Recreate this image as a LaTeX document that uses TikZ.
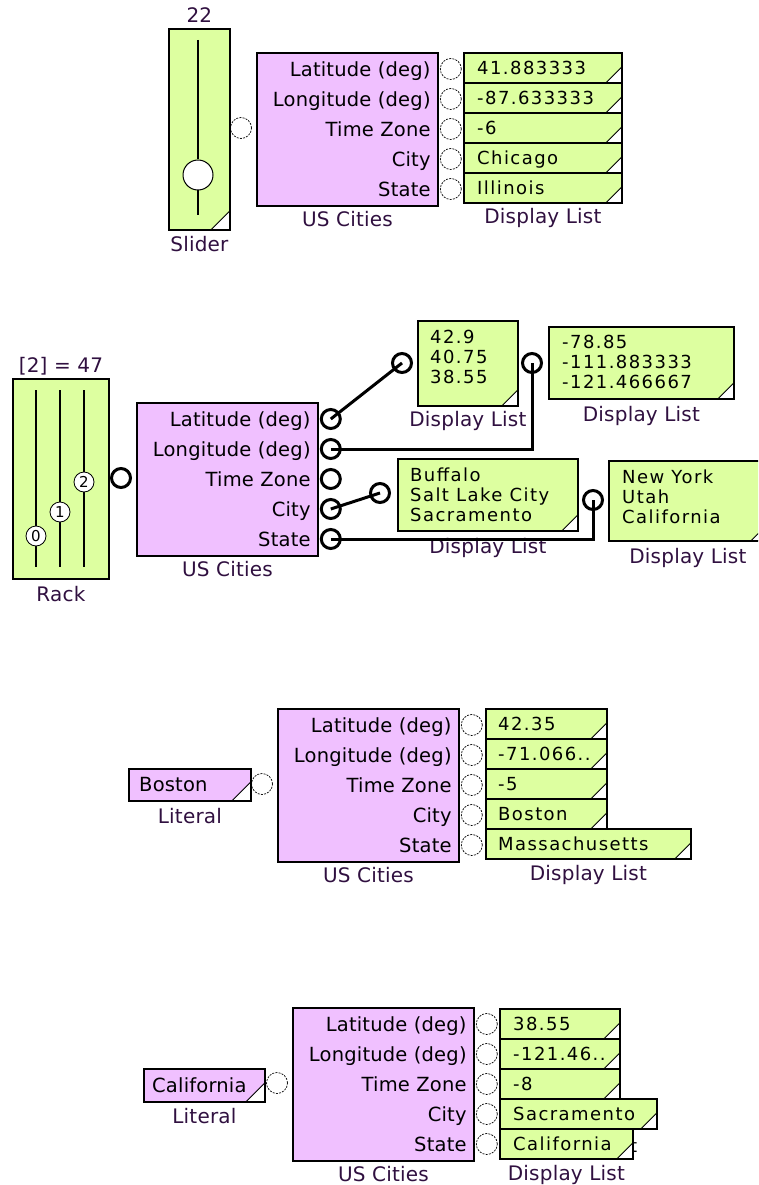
\documentclass[tikz,border=0pt]{standalone}
\usepackage{fontspec}
\setmainfont{DejaVu Sans}
\newfontfamily\lblfont[LetterSpace=1]{DejaVu Sans}
\newfontfamily\valfont[LetterSpace=8]{DejaVu Sans}
\usetikzlibrary{positioning}
\definecolor{dlgreen}{RGB}{221,255,160}
\definecolor{ucpink}{RGB}{240,192,255}
\definecolor{captxt}{RGB}{48,16,64}

\begin{document}
\begin{tikzpicture}[
    x=1pt, y=-1pt,
    greenbox/.style={draw, fill=dlgreen, line width=1.8pt, anchor=north west, inner sep=0pt},
    pinkbox/.style={draw, fill=ucpink, line width=1.8pt, anchor=north west, inner sep=0pt},
    corner/.style={path picture={\draw[fill=white, line width=0.9pt]
        ([xshift=-#1]path picture bounding box.south east) --
        ([yshift=#1]path picture bounding box.south east) --
        (path picture bounding box.south east) -- cycle;}},
    corner/.default=16pt,
    caption/.style={font=\lblfont\fontsize{20}{22}\selectfont, text=captxt, inner sep=0pt, anchor=mid, yshift=-4pt},
    portlabel/.style={font=\lblfont\fontsize{19.5}{22}\selectfont, inner sep=0pt, anchor=mid east, yshift=-5pt},
    value/.style={font=\valfont\fontsize{18}{20}\selectfont, inner sep=0pt, anchor=mid west},
    rowtext/.style={value, yshift=-4pt},
    openport/.style={circle, draw, fill=white, minimum size=21pt, inner sep=0pt, line width=0.7pt, dash pattern=on 2pt off 1.2pt},
    wireport/.style={circle, draw, fill=white, minimum size=19pt, inner sep=0pt, line width=3pt},
    knob/.style={circle, draw, fill=white, inner sep=0pt, line width=0.8pt},
    wire/.style={line width=3pt}
]
\clip (0,0) rectangle (758,1185);
\fill[white] (0,0) rectangle (758,1185);

% US Cities blocks
\foreach \s/\bx/\by/\pst in {1/256/52/openport, 2/136/402/wireport, 3/277/708/openport, 4/292/1007/openport}{
  \node[pinkbox, minimum width=181pt, minimum height=153pt] (uc\s) at (\bx,\by) {};
  \node[caption] (uccap\s) at ([yshift=-13pt]uc\s.south) {US Cities};
  \node[\pst] (in\s) at ([shift={(-15pt,-76pt)}]uc\s.north west) {};
  \foreach \lab [count=\k from 0] in {Latitude (deg), Longitude (deg), Time Zone, City, State}{
    \node[portlabel] (lab\s\k) at ([shift={(-8pt,-17pt-30pt*\k)}]uc\s.north east) {\lab};
    \node[\pst] (out\s\k) at ([shift={(12pt,-17pt-30pt*\k)}]uc\s.north east) {};
  }
}

% slider
\node[greenbox, corner=19pt, minimum width=61pt, minimum height=201pt] (slider) at (168,28) {};
\node[caption] (slidercap) at ([yshift=-14pt]slider.south) {Slider};
\node[caption] (sliderval) at ([yshift=12pt]slider.north) {22};
\node[knob, minimum size=30pt, line width=1pt] (sknob) at (198,175) {};
\draw[line width=1.5pt] (198,40) -- (sknob.north) (sknob.south) -- (198,215);

% display list 1
\foreach \val [count=\k from 0] in {41.883333, -87.633333, -6, Chicago, Illinois}{
  \node[greenbox, corner, minimum width=158pt, minimum height=30pt] (dl1\k) at (463,52+30*\k) {};
  \node[rowtext] at ([xshift=14pt]dl1\k.west) {\val};
}
\node[caption] (dlcap1) at ([yshift=-13pt]dl14.south) {Display List};

% rack
\node[greenbox, minimum width=96pt, minimum height=200pt] (rack) at (12,378) {};
\node[caption] (rackcap) at ([yshift=-15pt]rack.south) {Rack};
\node[caption] (rackval) at ([yshift=12pt]rack.north) {[2] = 47};
\foreach \kx/\ky [count=\k from 0] in {36/536, 60/512, 84/482}{
  \draw[line width=1.5pt] (\kx,390) -- (\kx,567);
  \node[knob, minimum size=20pt, font=\fontsize{15}{15}\selectfont] (rknob\k) at (\kx,\ky) {\the\numexpr\k\relax};
}

% display lists of the rack
\node[greenbox, corner, minimum width=100pt, minimum height=85pt] (dllat) at (417,320) {};
\node[value, anchor=north west, align=left] at ([shift={(13pt,-10pt)}]dllat.north west) {42.9\\40.75\\38.55};
\node[caption] (dllatcap) at ([yshift=-13pt]dllat.south) {Display List};
\node[wireport] (inlat) at (402,363) {};

\node[greenbox, corner, minimum width=185pt, minimum height=72pt] (dllon) at (548,326) {};
\node[value, anchor=north west, align=left] at ([shift={(14pt,-9pt)}]dllon.north west) {-78.85\\-111.883333\\-121.466667};
\node[caption] (dlloncap) at ([yshift=-15pt]dllon.south) {Display List};
\node[wireport] (inlon) at (532,363) {};

\node[greenbox, corner, minimum width=180pt, minimum height=72pt] (dlcity) at (397,458) {};
\node[value, anchor=north west, align=left] at ([shift={(13pt,-10pt)}]dlcity.north west) {Buffalo\\Salt Lake City\\Sacramento};
\node[caption] (dlcitycap) at ([yshift=-15pt]dlcity.south) {Display List};
\node[wireport] (incity) at (380,493) {};

\node[greenbox, corner, minimum width=158pt, minimum height=80pt] (dlstate) at (608,460) {};
\node[value, anchor=north west, align=left] at ([shift={(14pt,-10pt)}]dlstate.north west) {New York\\Utah\\California};
\node[caption] (dlstatecap) at ([yshift=-15pt]dlstate.south) {Display List};
\node[wireport] (instate) at (593,500) {};

\draw[wire] (out20.center) -- (inlat.center);
\draw[wire] (out21.center) -| (inlon.center);
\draw[wire] (out23.center) -- (incity.center);
\draw[wire] (out24.center) -| (instate.center);

% literal Boston
\node[pinkbox, corner=19pt, minimum width=122pt, minimum height=32pt] (lit3) at (128,768) {};
\node[rowtext, font=\lblfont\fontsize{19.5}{22}\selectfont] at ([xshift=11pt]lit3.west) {Boston};
\node[caption] (litcap3) at ([yshift=-15pt]lit3.south) {Literal};

\foreach \val/\w [count=\k from 0] in {42.35/121, -71.066../121, -5/121, Boston/121, Massachusetts/205}{
  \node[greenbox, corner, minimum width=\w pt, minimum height=30pt] (dl3\k) at (485,708+30*\k) {};
  \node[rowtext] at ([xshift=13pt]dl3\k.west) {\val};
}
\node[caption] (dlcap3) at ([yshift=-14pt]dl34.south) {Display List};

% literal California
\node[pinkbox, corner=19pt, minimum width=121pt, minimum height=33pt] (lit4) at (143,1068) {};
\node[rowtext, font=\lblfont\fontsize{19.5}{22}\selectfont] at ([xshift=9pt]lit4.west) {California};
\node[caption] (litcap4) at ([yshift=-14pt]lit4.south) {Literal};

\node[rowtext] (stray) at (630,1146) {t};
\foreach \val/\w [count=\k from 0] in {38.55/120, -121.46../120, -8/120, Sacramento/157, California/133}{
  \node[greenbox, corner, minimum width=\w pt, minimum height=30pt] (dl4\k) at (499,1008+30*\k) {};
  \node[rowtext] at ([xshift=14pt]dl4\k.west) {\val};
}
\node[caption] (dlcap4) at ([yshift=-14pt]dl44.south) {Display List};
\end{tikzpicture}
\end{document}
